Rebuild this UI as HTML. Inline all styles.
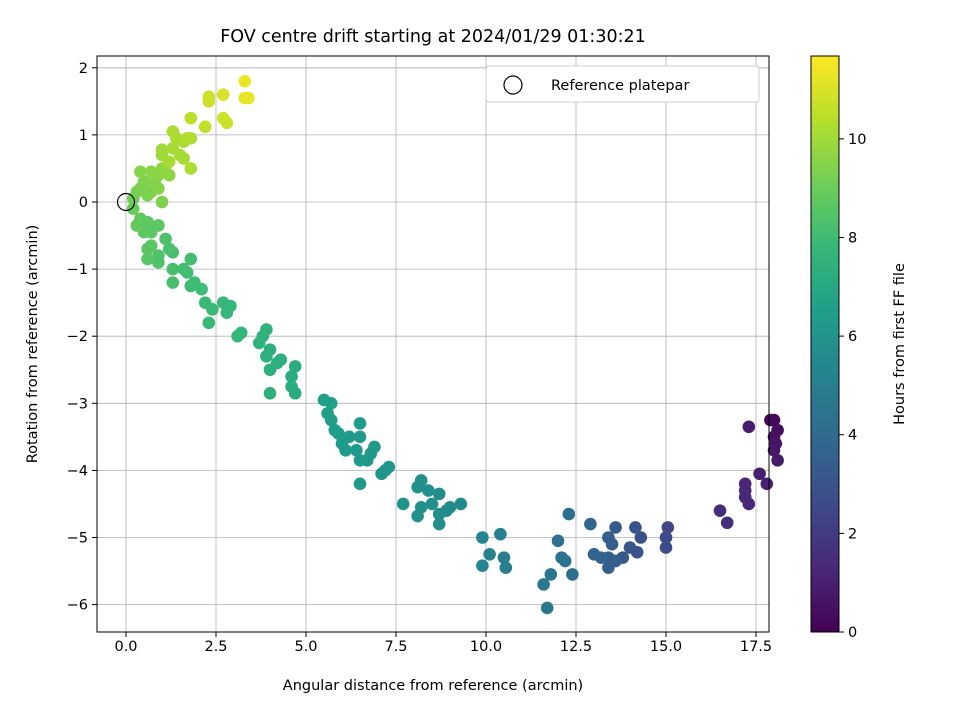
<!DOCTYPE html>
<html><head><meta charset="utf-8"><style>
body{margin:0;background:#fff}
svg text{font-family:"DejaVu Sans","Liberation Sans",sans-serif;fill:#000}
</style></head><body>
<svg id="c" width="960" height="720"></svg>
<script>
const xs=[17.9,18.0,18.1,18.0,18.05,18.0,18.1,17.3,17.6,17.8,17.2,17.2,17.2,17.3,16.5,16.7,
15.05,15.0,15.0,14.3,14.15,14.0,14.2,13.8,13.6,13.4,13.5,13.4,13.2,13.0,13.4,13.6,12.9,12.3,12.4,12.0,12.1,12.2,11.8,11.6,11.7,10.5,10.55,10.4,10.1,9.9,9.9,
9.3,9.0,8.9,8.7,8.7,8.7,8.5,8.4,8.2,8.1,8.2,8.1,7.7,7.3,7.1,7.2,6.9,6.8,6.7,6.5,6.5,6.4,6.5,6.5,6.2,6.0,5.9,5.8,5.7,5.7,5.6,5.5,6.1,
4.7,4.6,4.6,4.7,4.0,4.2,4.3,4.0,3.9,3.8,3.9,3.7,4.0,3.2,3.1,2.8,2.9,2.7,2.4,2.3,2.2,2.1,1.9,1.8,1.8,1.7,1.6,1.3,1.3,1.3,1.1,1.2,0.9,0.9,
0.6,0.6,0.7,0.5,0.4,0.3,0.4,0.2,0.6,0.7,0.9,0.2,0.3,0.4,0.5,0.6,0.7,0.8,0.4,0.7,0.9,1.0,1.1,1.2,0.9,1.0,
1.0,1.0,1.3,1.5,1.6,1.3,1.4,1.6,1.7,1.8,1.8,1.2,1.8,2.2,2.3,2.3,2.7,2.7,2.8,3.3,3.3,3.4];
const ys=[-3.25,-3.25,-3.4,-3.5,-3.6,-3.7,-3.85,-3.35,-4.05,-4.2,-4.2,-4.3,-4.4,-4.5,-4.6,-4.78,
-4.85,-5.0,-5.15,-5.0,-4.85,-5.15,-5.22,-5.3,-4.85,-5.0,-5.1,-5.3,-5.3,-5.25,-5.45,-5.35,-4.8,-4.65,-5.55,-5.05,-5.3,-5.35,-5.55,-5.7,-6.05,-5.3,-5.45,-4.95,-5.25,-5.0,-5.42,
-4.5,-4.55,-4.6,-4.35,-4.65,-4.8,-4.5,-4.3,-4.15,-4.25,-4.55,-4.68,-4.5,-3.95,-4.05,-4.0,-3.65,-3.75,-3.85,-3.3,-3.5,-3.7,-3.85,-4.2,-3.5,-3.6,-3.45,-3.4,-3.25,-3.0,-3.15,-2.95,-3.7,
-2.45,-2.6,-2.75,-2.85,-2.85,-2.4,-2.35,-2.5,-2.3,-2.0,-1.9,-2.1,-2.2,-1.95,-2.0,-1.65,-1.55,-1.5,-1.6,-1.8,-1.5,-1.3,-1.2,-1.25,-0.85,-1.05,-1.0,-1.0,-1.2,-0.75,-0.55,-0.7,-0.8,-0.9,
-0.7,-0.85,-0.65,-0.45,-0.35,-0.35,-0.25,-0.1,-0.3,-0.45,-0.35,0.05,0.15,0.2,0.3,0.1,0.15,0.3,0.45,0.45,0.4,0.5,0.45,0.4,0.2,0.0,
0.7,0.78,0.8,0.7,0.65,1.05,0.95,0.9,0.95,0.95,0.5,0.6,1.25,1.12,1.5,1.57,1.6,1.25,1.18,1.8,1.55,1.55];
const hours=[0.2,0.3,0.4,0.5,0.6,0.7,0.8,0.9,1.0,1.1,1.2,1.25,1.3,1.35,1.5,1.6,
2.5,2.6,2.7,2.9,3.0,3.1,3.0,3.2,3.3,3.4,3.4,3.5,3.6,3.7,3.5,3.5,3.8,4.2,4.3,4.4,4.4,4.5,4.6,4.7,4.7,5.0,5.0,5.1,5.2,5.3,5.3,
5.6,5.6,5.6,5.7,5.7,5.7,5.8,5.8,5.8,5.9,5.9,5.9,6.0,6.1,6.1,6.1,6.2,6.2,6.2,6.3,6.3,6.3,6.3,6.4,6.4,6.4,6.5,6.5,6.5,6.6,6.6,6.6,6.4,
7.2,7.2,7.2,7.2,7.4,7.3,7.3,7.4,7.4,7.5,7.5,7.5,7.4,7.7,7.7,7.8,7.8,7.8,7.9,7.9,7.9,8.0,8.0,8.0,8.1,8.1,8.1,8.2,8.2,8.2,8.3,8.3,8.4,8.4,
8.6,8.6,8.6,8.7,8.8,8.8,8.8,8.9,8.7,8.7,8.7,9.1,9.2,9.3,9.4,9.3,9.4,9.5,9.5,9.6,9.6,9.7,9.7,9.7,9.5,9.4,
10.0,10.0,10.1,10.1,10.1,10.2,10.2,10.2,10.3,10.3,10.2,10.1,10.5,10.6,10.8,10.8,11.0,10.8,10.8,11.4,11.3,11.3];
const xTicks=[0,2.5,5,7.5,10,12.5,15,17.5];
const yTicks=[2,1,0,-1,-2,-3,-4,-5,-6];
const cTicks=[0,2,4,6,8,10];
const L=97,R=769,T=56,B=632;
const X=v=>126+v*36, Y=v=>202-v*67.1;
const cMax=11.68, CY=v=>632-v*(576/cMax);
const vir=[[68,1,84],[72,40,120],[62,74,137],[49,104,142],[38,130,142],[31,158,137],[53,183,121],[110,206,88],[181,222,43],[253,231,37]];
function col(h){let t=Math.max(0,Math.min(1,h/cMax))*(vir.length-1);let i=Math.min(vir.length-2,Math.floor(t)),f=t-i;
return 'rgb('+vir[i].map((c,k)=>Math.round(c+(vir[i+1][k]-c)*f)).join(',')+')';}
const s=document.getElementById('c');const NS='http://www.w3.org/2000/svg';
function el(t,a,p){const e=document.createElementNS(NS,t);for(const k in a)e.setAttribute(k,a[k]);(p||s).appendChild(e);return e;}
function tx(str,a){const e=el('text',a);e.textContent=str;return e;}
xTicks.forEach(v=>{const g=el('line',{x1:X(v),x2:X(v),y1:T,y2:B,stroke:'#b0b0b0','stroke-width':0.8});

el('line',{x1:X(v),x2:X(v),y1:B,y2:B+5,stroke:'#000'});
const t=tx(v.toFixed(1),{x:X(v),y:B+19,'font-size':14.5,'text-anchor':'middle'});
});
yTicks.forEach(v=>{const g=el('line',{x1:L,x2:R,y1:Y(v),y2:Y(v),stroke:'#b0b0b0','stroke-width':0.8});

el('line',{x1:L-5,x2:L,y1:Y(v),y2:Y(v),stroke:'#000'});
const t=tx(String(v).replace('-','−'),{x:L-9,y:Y(v)+5,'font-size':14.5,'text-anchor':'end'});
});
xs.forEach((x,i)=>{const c=el('circle',{cx:X(x),cy:Y(ys[i]),r:6.3,fill:col(hours[i])});
});
const rp=el('circle',{cx:X(0),cy:Y(0),r:8.5,fill:'none',stroke:'#000','stroke-width':1.2});

const fr=el('rect',{x:L,y:T,width:R-L,height:B-T,fill:'none',stroke:'#000','stroke-width':1});

const lg=el('g',{});
el('rect',{x:486,y:66,width:273,height:36,rx:3,fill:'#fff',stroke:'#ccc'},lg);
el('circle',{cx:513,cy:85,r:9,fill:'none',stroke:'#000','stroke-width':1.2},lg);
const lt=el('text',{x:551,y:90,'font-size':14.5},lg);lt.textContent='Reference platepar';
const t1=tx('FOV centre drift starting at 2024/01/29 01:30:21',{x:433,y:42,'font-size':17.5,'text-anchor':'middle'});

const t2=tx('Angular distance from reference (arcmin)',{x:433,y:690,'font-size':14.5,'text-anchor':'middle'});

const t3=tx('Rotation from reference (arcmin)',{x:0,y:0,'font-size':14.5,'text-anchor':'middle',transform:'translate(37,344) rotate(-90)'});

const cb=el('g',{});
for(let i=0;i<576;i+=2){el('rect',{x:811,y:B-i-2,width:28,height:2.5,fill:col((i+1)/576*cMax)},cb);}
el('rect',{x:811,y:T,width:28,height:576,fill:'none',stroke:'#000'},cb);
cTicks.forEach(v=>{el('line',{x1:839,x2:844,y1:CY(v),y2:CY(v),stroke:'#000'});
const t=tx(String(v),{x:848,y:CY(v)+5,'font-size':14.5});
});
const t4=tx('Hours from first FF file',{x:0,y:0,'font-size':14.5,'text-anchor':'middle',transform:'translate(904,344) rotate(-90)'});

</script>
</body></html>
